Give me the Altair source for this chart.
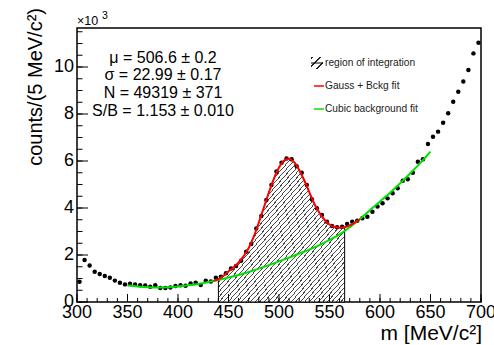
import altair as alt
import pandas as pd

# ---------------- data ----------------
counts = [0.86, 1.79, 1.55, 1.29, 1.19, 1.11, 1.03, 0.91, 0.82, 0.75,
          0.78, 0.75, 0.71, 0.70, 0.65, 0.71, 0.60, 0.60, 0.62, 0.68,
          0.71, 0.69, 0.79, 0.82, 0.72, 0.91, 0.87, 1.03, 1.08, 1.22,
          1.43, 1.53, 1.76, 2.14, 2.47, 3.13, 3.66, 4.34, 4.98, 5.55,
          5.93, 6.11, 6.07, 5.78, 5.50, 4.98, 4.37, 3.99, 3.70, 3.42,
          3.23, 3.18, 3.20, 3.32, 3.42, 3.46, 3.56, 3.63, 3.84, 4.06,
          4.20, 4.41, 4.63, 4.84, 5.16, 5.22, 5.50, 5.97, 6.07, 6.72,
          7.03, 7.25, 7.63, 8.03, 8.52, 8.95, 9.38, 9.87, 10.58, 11.03]
masses = [302.5 + 5 * i for i in range(len(counts))]  # bin centres, 5 MeV bins

red_m = [435, 440, 445, 450, 455, 460, 465, 470, 475, 480, 485, 490, 495, 500,
         505, 510, 515, 520, 525, 530, 535, 540, 545, 550, 555, 560, 565, 570,
         575, 580]
red_v = [0.90, 0.97, 1.12, 1.30, 1.48, 1.68, 1.95, 2.30, 2.78, 3.38, 4.02, 4.66,
         5.25, 5.72, 6.02, 6.10, 5.95, 5.62, 5.18, 4.68, 4.18, 3.80, 3.50, 3.30,
         3.19, 3.16, 3.18, 3.26, 3.38, 3.52]

green_m = [350, 360, 370, 380, 390, 400, 410, 420, 430, 440, 450, 460, 470, 480,
           490, 500, 510, 520, 530, 540, 550, 560, 570, 580, 590, 600, 610, 620,
           630, 640, 650]
green_v = [0.70, 0.66, 0.63, 0.62, 0.63, 0.66, 0.71, 0.77, 0.85, 0.94, 1.04, 1.15,
           1.28, 1.42, 1.57, 1.73, 1.89, 2.06, 2.23, 2.42, 2.64, 2.88, 3.18, 3.52,
           3.90, 4.28, 4.65, 5.05, 5.48, 5.92, 6.40]

int_lo, int_hi = 440, 565

x_major = [300, 350, 400, 450, 500, 550, 600, 650, 700]
x_minor = [300 + 10 * i for i in range(41)]
y_major = [0, 2, 4, 6, 8, 10]
y_minor = [0.5 * i for i in range(24)]

x_title = "m [MeV/c²]"
y_title = "counts/(5 MeV/c²)"
stats = ["μ = 506.6 ±  0.2", "σ = 22.99 ± 0.17", "N = 49319 ±  371",
         "S/B = 1.153 ± 0.010"]
legend_labels = ["region of integration", "Gauss + Bckg fit", "Cubic background fit"]

# ---------------- style ----------------
W, H = 404, 274
FONT = "Liberation Sans"
RED = "#ff0000"
GREEN = "#00e000"
xs = alt.Scale(domain=[300, 700], nice=False, zero=False)
ys = alt.Scale(domain=[0, 11.66], nice=False, zero=False)


def hatch(n, frac=0.24, dark="#4a4a4a"):
    stops = []
    for i in range(n):
        a, b, c = i / n, (i + frac) / n, (i + 1) / n
        stops += [alt.GradientStop(offset=a, color=dark),
                  alt.GradientStop(offset=b, color=dark),
                  alt.GradientStop(offset=b, color="white"),
                  alt.GradientStop(offset=c, color="white")]
    return alt.Gradient(gradient="linear", stops=stops, x1=0, y1=0, x2=1, y2=1)


df_pts = pd.DataFrame({"m": masses, "v": counts})
df_red = pd.DataFrame({"m": red_m, "v": red_v})
df_green = pd.DataFrame({"m": green_m, "v": green_v})
df_int = df_red[(df_red.m >= int_lo) & (df_red.m <= int_hi)]

X = lambda f="m": alt.X(f"{f}:Q", scale=xs, axis=None)
Y = lambda f="v": alt.Y(f"{f}:Q", scale=ys, axis=None)

area = alt.Chart(df_int).mark_area(
    fill=hatch(56), stroke="black", strokeWidth=1, interpolate="monotone"
).encode(x=X(), y=Y(), y2=alt.datum(0))

points = alt.Chart(df_pts).mark_circle(color="black", size=20, opacity=1).encode(
    x=X(), y=Y())

green_line = alt.Chart(df_green).mark_line(
    color=GREEN, strokeWidth=2, interpolate="monotone").encode(x=X(), y=Y())
red_line = alt.Chart(df_red).mark_line(
    color=RED, strokeWidth=2, interpolate="monotone").encode(x=X(), y=Y())


def xticks(vals, length):
    return alt.Chart(pd.DataFrame({"t": vals})).mark_rule(color="black", strokeWidth=1).encode(
        x=X("t"), y=alt.value(H), y2=alt.value(H - length))


def yticks(vals, length):
    return alt.Chart(pd.DataFrame({"t": vals})).mark_rule(color="black", strokeWidth=1).encode(
        y=Y("t"), x=alt.value(0), x2=alt.value(length))


# axis tick labels (through the scales)
xlabels = alt.Chart(pd.DataFrame({"t": x_major})).mark_text(
    font=FONT, fontSize=18, align="center", baseline="top", color="black"
).encode(x=X("t"), y=alt.value(H + 2), text=alt.Text("t:Q", format="d"))
ylabels = alt.Chart(pd.DataFrame({"t": y_major})).mark_text(
    font=FONT, fontSize=18, align="right", baseline="middle", color="black"
).encode(y=Y("t"), x=alt.value(-3), text=alt.Text("t:Q", format="d"))


def label(txt, x, y, size, align="left", baseline="middle", color="black", angle=0):
    return alt.Chart(pd.DataFrame({"t": [txt]})).mark_text(
        font=FONT, fontSize=size, align=align, baseline=baseline, color=color, angle=angle
    ).encode(x=alt.value(x), y=alt.value(y), text="t:N")


xtitle = label(x_title, W + 1, H + 38, 21, align="right", baseline="alphabetic")
ytitle = label(y_title, -41, -20, 20, align="right", baseline="middle", angle=270)

stat_layers = [label(s, 86, y, 16, align="center")
               for s, y in zip(stats, [29.5, 47.2, 64.9, 82.6])]

leg_hatch = alt.Chart(pd.DataFrame({"t": [0]})).mark_rect(fill=hatch(3, 0.3, "#222222")).encode(
    x=alt.value(234), x2=alt.value(246), y=alt.value(29), y2=alt.value(41))
leg_hline = alt.Chart(pd.DataFrame({"t": [0]})).mark_rule(color="black", strokeWidth=1).encode(
    x=alt.value(234), x2=alt.value(246), y=alt.value(35))
leg_red = alt.Chart(pd.DataFrame({"t": [0]})).mark_rule(color=RED, strokeWidth=1.5).encode(
    x=alt.value(237), x2=alt.value(247), y=alt.value(58))
leg_green = alt.Chart(pd.DataFrame({"t": [0]})).mark_rule(color=GREEN, strokeWidth=1.5).encode(
    x=alt.value(237), x2=alt.value(247), y=alt.value(81))
leg_text = [label(s, 248, y, 10.2, color="#222222")
            for s, y in zip(legend_labels, [35, 58, 81])]

exp_a = label("×10", 0, -3, 12.5, baseline="alphabetic")
exp_b = label("3", 25, -9, 10.5, baseline="alphabetic")

chart = alt.layer(
    area, points, green_line, red_line,
    xticks(x_minor, 4), xticks(x_major, 8), yticks(y_minor, 5.5), yticks(y_major, 11),
    xlabels, ylabels, xtitle, ytitle,
    *stat_layers, leg_hatch, leg_hline, leg_red, leg_green, *leg_text, exp_a, exp_b
).properties(
    width=W, height=H,
    autosize=alt.AutoSizeParams(type="none"),
    padding={"left": 77, "top": 28, "right": 13, "bottom": 43},
    background="white",
).configure_view(stroke="black", strokeWidth=1.5)

chart.save("out.html", embed_options={"renderer": "svg", "actions": False})
